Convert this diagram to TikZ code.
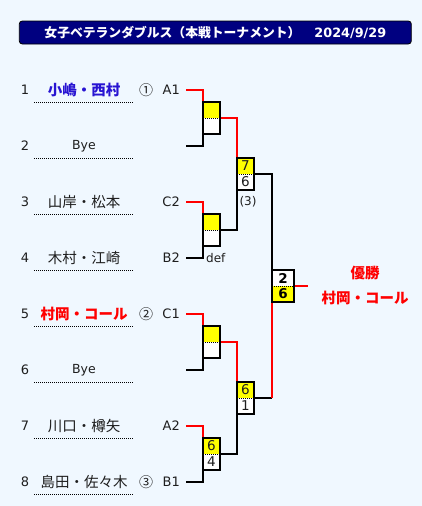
\documentclass[tikz,border=0pt]{standalone}
\usepackage{fontspec}
\setmainfont{DejaVu Sans}
\newfontfamily\jp{Noto Sans CJK JP}
\definecolor{bg}{HTML}{F0F8FF}
\definecolor{navy}{HTML}{000080}
\definecolor{yel}{HTML}{FFFF00}
\definecolor{txt}{HTML}{1E1E1E}
\definecolor{seedblue}{RGB}{40,20,210}
\definecolor{winred}{HTML}{FF0000}
\begin{document}
\begin{tikzpicture}[x=1pt,y=-1pt,
  lnk/.style={line width=1.3pt, black},
  win/.style={line width=1.3pt, winred},
  numtxt/.style={font=\fontsize{13}{13}\selectfont, text=txt, inner sep=0pt},
  nametxt/.style={font=\jp\fontsize{14.5}{15}\selectfont, text=txt, inner sep=0pt},
  byetxt/.style={font=\fontsize{12.5}{13}\selectfont, text=txt, inner sep=0pt},
  seedtxt/.style={font=\jp\fontsize{14}{14}\selectfont, text=txt, inner sep=0pt},
  labtxt/.style={font=\fontsize{13}{13}\selectfont, text=txt, inner sep=0pt, anchor=east},
  dotline/.style={line width=1pt, dash pattern=on 1pt off 1pt, black},
  half/.style={minimum width=17pt, minimum height=16pt, inner sep=0pt, outer sep=0pt, fill=white, font=\fontsize{13.5}{13.5}\selectfont, text=txt},
  wonhalf/.style={half, fill=yel},
  fhalf/.style={half, minimum width=22pt, font=\bfseries\fontsize{13.5}{13.5}\selectfont, text=black},
  boxline/.style={line width=1.3pt, black},
  divline/.style={line width=1pt, dash pattern=on 1pt off 1pt, black},
  smalltxt/.style={font=\fontsize{12}{12}\selectfont, text=txt, inner sep=0pt}
]
% background and bounding box
\path[use as bounding box, fill=bg] (0,0) rectangle (422,506);

% title bar
\node[draw=black, line width=0.8pt, fill=navy, rounded corners=3pt, minimum width=392pt, minimum height=23pt, inner sep=0pt,
      text=white, font=\bfseries\fontsize{12.8}{13}\selectfont] (title) at (215.3,32.5)
  {{\jp 女子ベテランダブルス（本戦トーナメント）}\hspace{14pt}2024/9/29};

% row numbers
\node[numtxt] (n1) at (25,90) {1};
\node[numtxt] (n2) at (25,146) {2};
\node[numtxt] (n3) at (25,202) {3};
\node[numtxt] (n4) at (25,258) {4};
\node[numtxt] (n5) at (25,314) {5};
\node[numtxt] (n6) at (25,370) {6};
\node[numtxt] (n7) at (25,426) {7};
\node[numtxt] (n8) at (25,482) {8};

% names
\node[nametxt, text=seedblue, font=\jp\bfseries\fontsize{14.5}{15}\selectfont] (p1) at (84,90) {小嶋・西村};
\node[byetxt] (p2) at (84,146) {Bye};
\node[nametxt] (p3) at (84,202) {山岸・松本};
\node[nametxt] (p4) at (84,258) {木村・江崎};
\node[nametxt, text=winred, font=\jp\bfseries\fontsize{14.5}{15}\selectfont] (p5) at (84,314) {村岡・コール};
\node[byetxt] (p6) at (84,370) {Bye};
\node[nametxt] (p7) at (84,426) {川口・樽矢};
\node[nametxt] (p8) at (84,482) {島田・佐々木};

% dotted underlines
\foreach \yy in {102,158,214,270,326,382,438,494} {
  \draw[dotline] (34,\yy) -- (133,\yy);
}

% seeds
\node[seedtxt] (s1) at (146,90) {①};
\node[seedtxt] (s5) at (146,314) {②};
\node[seedtxt] (s8) at (146,482) {③};

% draw labels
\node[labtxt] (l1) at (180,90) {A1};
\node[labtxt] (l3) at (180,202) {C2};
\node[labtxt] (l4) at (180,258) {B2};
\node[labtxt] (l5) at (180,314) {C1};
\node[labtxt] (l7) at (180,426) {A2};
\node[labtxt] (l8) at (180,482) {B1};

% connector start points
\coordinate (c1) at (186,90);
\coordinate (c2) at (186,146);
\coordinate (c3) at (186,202);
\coordinate (c4) at (186,258);
\coordinate (c5) at (186,314);
\coordinate (c6) at (186,370);
\coordinate (c7) at (186,426);
\coordinate (c8) at (186,482);

% round 1 boxes
\node[wonhalf, anchor=south west] (m1t) at (203,118) {};
\node[half, anchor=north west] (m1b) at (203,118) {};
\node[wonhalf, anchor=south west] (m2t) at (203,230) {};
\node[half, anchor=north west] (m2b) at (203,230) {};
\node[wonhalf, anchor=south west] (m3t) at (203,342) {};
\node[half, anchor=north west] (m3b) at (203,342) {};
\node[wonhalf, anchor=south west] (m4t) at (203,454) {6};
\node[half, anchor=north west] (m4b) at (203,454) {4};

% round 2 boxes
\node[wonhalf, anchor=south west] (r1t) at (237,174) {7};
\node[half, anchor=north west] (r1b) at (237,174) {6};
\node[wonhalf, anchor=south west] (r2t) at (237,398) {6};
\node[half, anchor=north west] (r2b) at (237,398) {1};

% final box
\node[fhalf, anchor=south west] (ft) at (272,286) {2};
\node[fhalf, fill=yel, anchor=north west] (fb) at (272,286) {6};

% connectors round 1
\draw[win] (c1) -| (m1t.north west);
\draw[lnk] (c2) -| (m1b.south west);
\draw[win] (c3) -| (m2t.north west);
\draw[lnk] (c4) -| (m2b.south west);
\draw[win] (c5) -| (m3t.north west);
\draw[lnk] (c6) -| (m3b.south west);
\draw[win] (c7) -| (m4t.north west);
\draw[lnk] (c8) -| (m4b.south west);

% connectors round 2
\draw[win] (m1t.south east) -| (r1t.north west);
\draw[lnk] (m2t.south east) -| (r1b.south west);
\draw[win] (m3t.south east) -| (r2t.north west);
\draw[lnk] (m4t.south east) -| (r2b.south west);

% connectors final
\draw[lnk] (r1t.south east) -| (ft.north west);
\coordinate (fj) at (r2t.south east -| fb.south west);
\draw[lnk] (r2t.south east) -- (fj);
\draw[win] (fj) -- (fb.south west);
\coordinate (champ) at (308,286);
\draw[win] (ft.south east) -- (champ);

% box outlines
\foreach \t/\b in {m1t/m1b, m2t/m2b, m3t/m3b, m4t/m4b, r1t/r1b, r2t/r2b, ft/fb} {
  \draw[boxline] (\t.north west) rectangle (\b.south east);
  \draw[divline] (\t.south west) -- (\t.south east);
}

% notes
\node[smalltxt, anchor=west] (def) at (206,258) {def};
\node[smalltxt] (sc) at (248,202) {(3)};

% champion
\node[font=\jp\bfseries\fontsize{14.5}{15}\selectfont, text=winred, inner sep=0pt] (ch1) at (365,273) {優勝};
\node[font=\jp\bfseries\fontsize{14.5}{15}\selectfont, text=winred, inner sep=0pt] (ch2) at (365,298) {村岡・コール};
\end{tikzpicture}
\end{document}
